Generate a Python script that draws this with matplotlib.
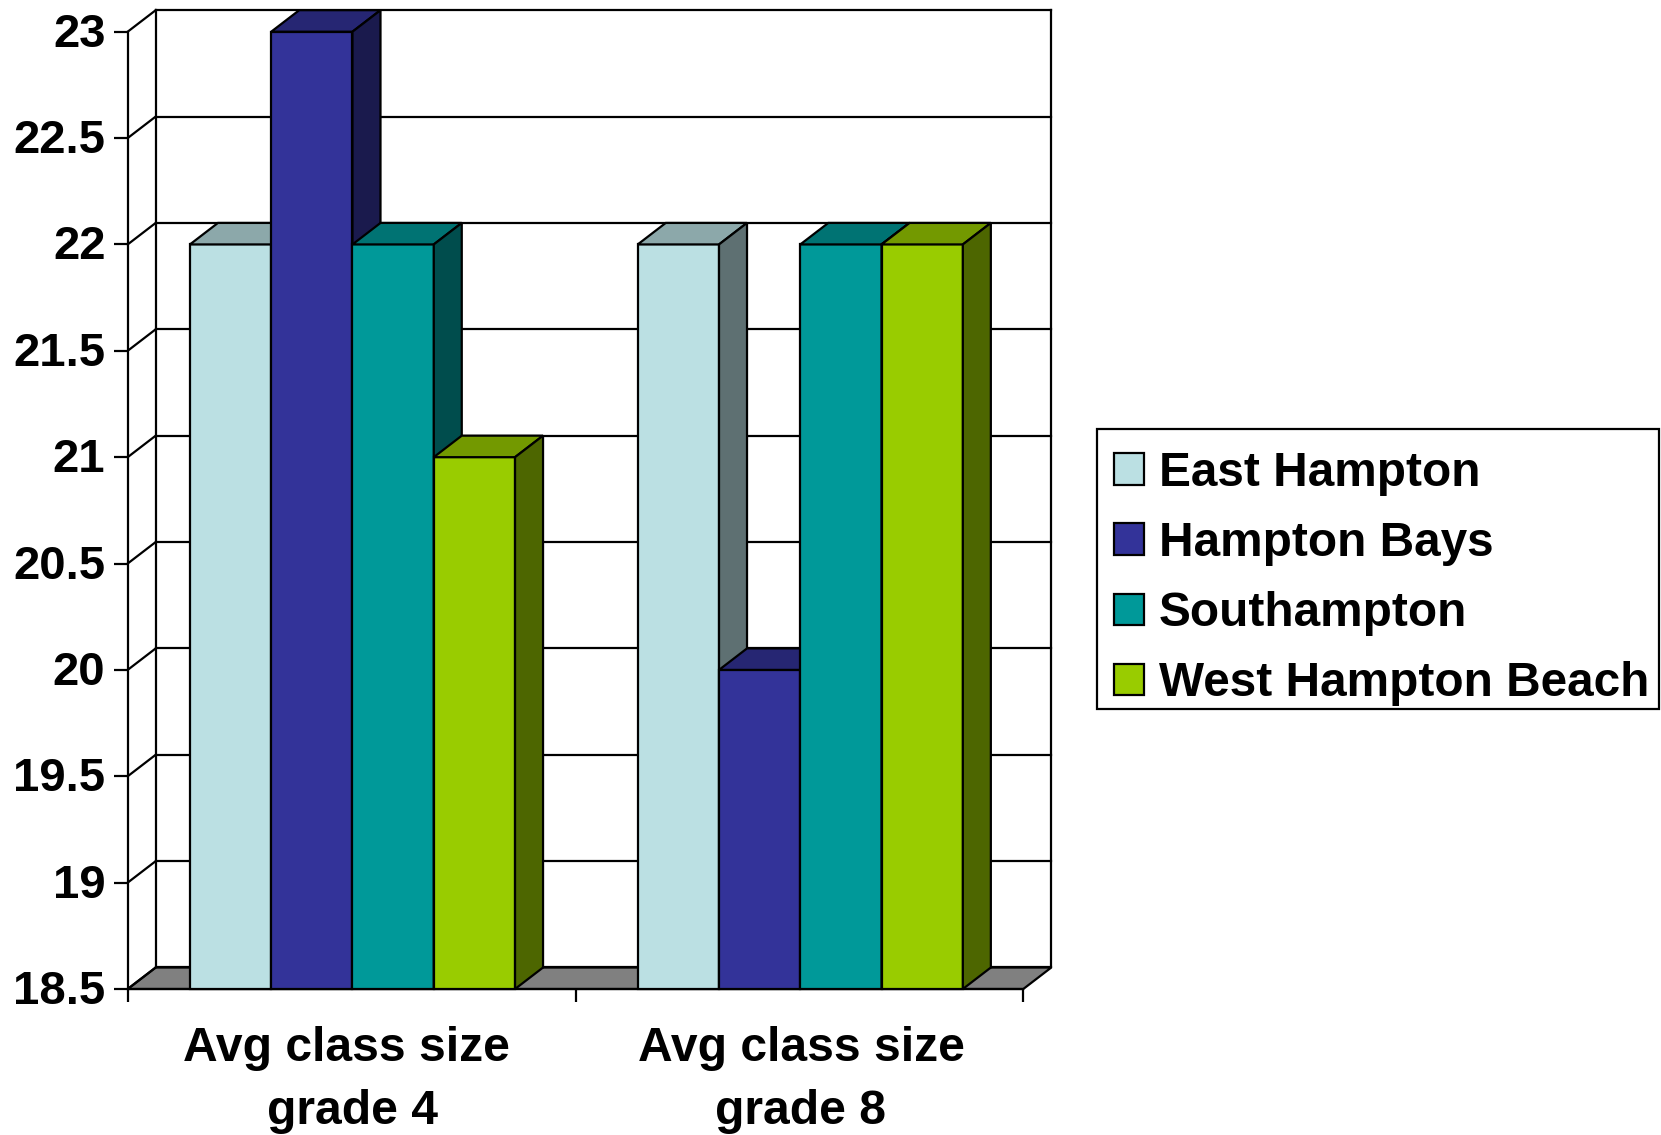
import matplotlib
matplotlib.use("Agg")
import matplotlib.pyplot as plt
from matplotlib.patches import Patch, Rectangle
from matplotlib.transforms import ScaledTranslation

plt.rcParams["font.family"] = ["Liberation Sans", "DejaVu Sans"]
plt.rcParams["font.weight"] = "bold"

categories = ["Avg class size\ngrade 4", "Avg class size\ngrade 8"]
schools = ["East Hampton", "Hampton Bays", "Southampton", "West Hampton Beach"]
grade_4 = [22, 23, 22, 21]
grade_8 = [22, 20, 22, 22]
y_ticks = [18.5, 19, 19.5, 20, 20.5, 21, 21.5, 22, 22.5, 23]
y_labels = ["18.5", "19", "19.5", "20", "20.5", "21", "21.5", "22", "22.5", "23"]
colors = ["#BBE0E3", "#333399", "#009999", "#99CC00"]

W, H = 1661, 1135
LEFT, RIGHT, BASE, TOP = 127.7, 1023.3, 989.0, 31.7
LW = 1.6
BAR_W = 0.1815
BAR_START = 0.139
YMIN, YMAX = y_ticks[0], y_ticks[-1]
FONT = 34.6

# depth of the fake 3D box, in data units
DX = 28 / ((RIGHT - LEFT) / 2)
DY = 21.5 / ((BASE - TOP) / (YMAX - YMIN))


def shade(color, k):
    rgb = matplotlib.colors.to_rgb(color)
    return tuple(c * k for c in rgb)


fig = plt.figure(figsize=(W / 100, H / 100), dpi=100)
ax = fig.add_axes([LEFT / W, 1 - BASE / H, (RIGHT - LEFT) / W, (BASE - TOP) / H])
ax.set_xlim(0, 2)
ax.set_ylim(YMIN, YMAX)
ax.patch.set_visible(False)

for side in ["top", "right"]:
    ax.spines[side].set_visible(False)
for side in ["left", "bottom"]:
    ax.spines[side].set_linewidth(LW)

ax.set_yticks(y_ticks)
ax.set_yticklabels(y_labels, fontsize=34, fontweight="bold")
ax.tick_params(axis="y", length=10, width=LW, pad=6)
ax.set_xticks([0, 1, 2])
ax.set_xticklabels([])
ax.tick_params(axis="x", length=9.5, width=LW)

# nudge the value labels up a little
nudge = ScaledTranslation(0, 1.4 / 72, fig.dpi_scale_trans)
for lab in ax.get_yticklabels():
    lab.set_transform(lab.get_transform() + nudge)

# floor
ax.fill([0, 2, 2 + DX, DX], [YMIN, YMIN, YMIN + DY, YMIN + DY],
        facecolor="#808080", edgecolor="black", linewidth=LW, clip_on=False, zorder=1)

# back wall and left wall
for t in y_ticks:
    ax.plot([0, DX], [t, t + DY], color="black", lw=LW, clip_on=False, zorder=1.5)
    ax.plot([DX, 2 + DX], [t + DY, t + DY], color="black", lw=LW, clip_on=False, zorder=1.5)
ax.plot([DX, DX], [YMIN + DY, YMAX + DY], color="black", lw=LW, clip_on=False, zorder=1.5)
ax.plot([2 + DX, 2 + DX], [YMIN + DY, YMAX + DY], color="black", lw=LW, clip_on=False, zorder=1.5)


def draw_bar(x, value, color, z):
    ax.bar(x, value - YMIN, BAR_W, bottom=YMIN, align="edge", color=color,
           edgecolor="black", linewidth=LW, clip_on=False, zorder=z)
    ax.fill([x, x + BAR_W, x + BAR_W + DX, x + DX],
            [value, value, value + DY, value + DY],
            facecolor=shade(color, 0.75), edgecolor="black", linewidth=LW,
            clip_on=False, zorder=z)
    ax.fill([x + BAR_W, x + BAR_W + DX, x + BAR_W + DX, x + BAR_W],
            [YMIN, YMIN + DY, value + DY, value],
            facecolor=shade(color, 0.5), edgecolor="black", linewidth=LW,
            clip_on=False, zorder=z)


z = 3
for g, values in enumerate([grade_4, grade_8]):
    for i, v in enumerate(values):
        draw_bar(g + BAR_START + i * BAR_W, v, colors[i], z)
        z += 1

# category labels, one line at a time
first_line_shift = [-4, 1.5]
for g, label in enumerate(categories):
    line1, line2 = label.split("\n")
    ax.annotate(line1, xy=(g + 0.5, 0), xycoords=("data", "axes fraction"),
                xytext=(first_line_shift[g], -52), textcoords="offset points",
                ha="center", va="baseline", fontsize=FONT, fontweight="bold")
    ax.annotate(line2, xy=(g + 0.5, 0), xycoords=("data", "axes fraction"),
                xytext=(1, -97), textcoords="offset points",
                ha="center", va="baseline", fontsize=FONT, fontweight="bold")

# legend frame is a separate box so its padding can be uneven
fig.add_artist(Rectangle((1097.4 / W, 1 - 709 / H), 562 / W, 280 / H,
                         transform=fig.transFigure, facecolor="white",
                         edgecolor="black", linewidth=LW))
handles = [Patch(facecolor=c, edgecolor="black", linewidth=LW) for c in colors]
leg = fig.legend(handles, schools, loc="upper left",
                 bbox_to_anchor=(1113.5 / W, 1 - 451 / H),
                 prop={"size": 34.4, "weight": "bold"}, frameon=False,
                 handlelength=0.64, handleheight=0.64, handletextpad=0.31,
                 labelspacing=0.525, borderpad=0, borderaxespad=0)

fig.savefig("out.png", dpi=100)
